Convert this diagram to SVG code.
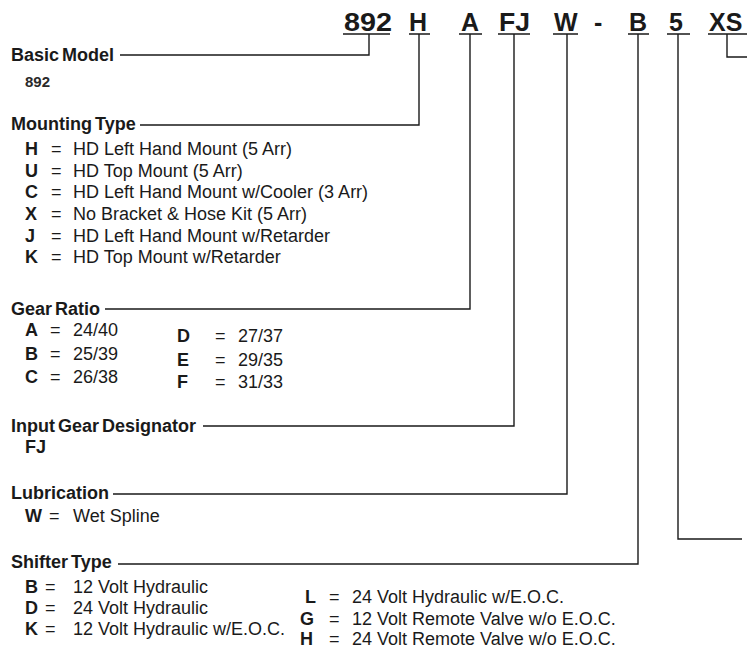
<svg xmlns="http://www.w3.org/2000/svg" width="747" height="650" viewBox="0 0 747 650">
<style>
text{font-family:"Liberation Sans",Arial,sans-serif;fill:#1a1a1a}
.code{font-size:25px;font-weight:bold}
.hd{font-size:18px;font-weight:bold;word-spacing:-2px}
.k{font-size:18px;font-weight:bold}
.t{font-size:18px}
.sm{font-size:15px;font-weight:bold;fill:#2a2a2a}
.ln{stroke:#1a1a1a;stroke-width:1.4;fill:none}
</style>
<rect width="747" height="650" fill="#fff"/>
<g id="code">
<text class="code" x="344" y="31" textLength="48" lengthAdjust="spacingAndGlyphs">892</text>
<text class="code" x="409" y="31">H</text>
<text class="code" x="461" y="31">A</text>
<text class="code" x="499" y="31" textLength="31" lengthAdjust="spacingAndGlyphs">FJ</text>
<text class="code" x="554" y="31">W</text>
<text class="code" x="594" y="31">-</text>
<text class="code" x="629" y="31">B</text>
<text class="code" x="669" y="31">5</text>
<text class="code" x="709" y="31">XS</text>
</g>
<g id="connectors" class="ln">
<path d="M343 34H390M369 34V55H120"/>
<path d="M409 34H430M419 34V125H140"/>
<path d="M459 34H482M470 34V309H105"/>
<path d="M498 34H530M514 34V426H203"/>
<path d="M553 34H578M567 34V494H113"/>
<path d="M628 34H649M638 34V564H118"/>
<path d="M667 34H690M678 34V539H742"/>
<path d="M708 34H747M727 34V57H747"/>
</g>
<g id="basic-model">
<text class="hd" x="11" y="61">Basic Model</text>
<text class="sm" x="25" y="87">892</text>
</g>
<g id="mounting-type">
<text class="hd" x="11" y="130">Mounting Type</text>
<text class="k" x="25" y="155">H</text><text class="t" x="51" y="155">=</text><text class="t" x="73" y="155">HD Left Hand Mount (5 Arr)</text>
<text class="k" x="25" y="177">U</text><text class="t" x="51" y="177">=</text><text class="t" x="73" y="177">HD Top Mount (5 Arr)</text>
<text class="k" x="25" y="198">C</text><text class="t" x="51" y="198">=</text><text class="t" x="73" y="198">HD Left Hand Mount w/Cooler (3 Arr)</text>
<text class="k" x="25" y="220">X</text><text class="t" x="51" y="220">=</text><text class="t" x="73" y="220">No Bracket &amp; Hose Kit (5 Arr)</text>
<text class="k" x="25" y="242">J</text><text class="t" x="51" y="242">=</text><text class="t" x="73" y="242">HD Left Hand Mount w/Retarder</text>
<text class="k" x="25" y="263">K</text><text class="t" x="51" y="263">=</text><text class="t" x="73" y="263">HD Top Mount w/Retarder</text>
</g>
<g id="gear-ratio">
<text class="hd" x="11" y="315">Gear Ratio</text>
<text class="k" x="25" y="336">A</text><text class="t" x="50" y="336">=</text><text class="t" x="73" y="336">24/40</text>
<text class="k" x="25" y="360">B</text><text class="t" x="50" y="360">=</text><text class="t" x="73" y="360">25/39</text>
<text class="k" x="25" y="383">C</text><text class="t" x="50" y="383">=</text><text class="t" x="73" y="383">26/38</text>
<text class="k" x="177" y="342">D</text><text class="t" x="215" y="342">=</text><text class="t" x="238" y="342">27/37</text>
<text class="k" x="177" y="366">E</text><text class="t" x="215" y="366">=</text><text class="t" x="238" y="366">29/35</text>
<text class="k" x="177" y="388">F</text><text class="t" x="215" y="388">=</text><text class="t" x="238" y="388">31/33</text>
</g>
<g id="input-gear">
<text class="hd" x="11" y="432">Input Gear Designator</text>
<text class="k" x="25" y="453">FJ</text>
</g>
<g id="lubrication">
<text class="hd" x="11" y="499">Lubrication</text>
<text class="k" x="25" y="522">W</text><text class="t" x="49" y="522">=</text><text class="t" x="73" y="522">Wet Spline</text>
</g>
<g id="shifter-type">
<text class="hd" x="11" y="568">Shifter Type</text>
<text class="k" x="25" y="593">B</text><text class="t" x="45" y="593">=</text><text class="t" x="73" y="593">12 Volt Hydraulic</text>
<text class="k" x="25" y="614">D</text><text class="t" x="45" y="614">=</text><text class="t" x="73" y="614">24 Volt Hydraulic</text>
<text class="k" x="25" y="635">K</text><text class="t" x="45" y="635">=</text><text class="t" x="73" y="635">12 Volt Hydraulic w/E.O.C.</text>
<text class="k" x="305" y="603">L</text><text class="t" x="329" y="603">=</text><text class="t" x="352" y="603">24 Volt Hydraulic w/E.O.C.</text>
<text class="k" x="300" y="625">G</text><text class="t" x="329" y="625">=</text><text class="t" x="352" y="625">12 Volt Remote Valve w/o E.O.C.</text>
<text class="k" x="300" y="645">H</text><text class="t" x="329" y="645">=</text><text class="t" x="352" y="645">24 Volt Remote Valve w/o E.O.C.</text>
</g>
</svg>
